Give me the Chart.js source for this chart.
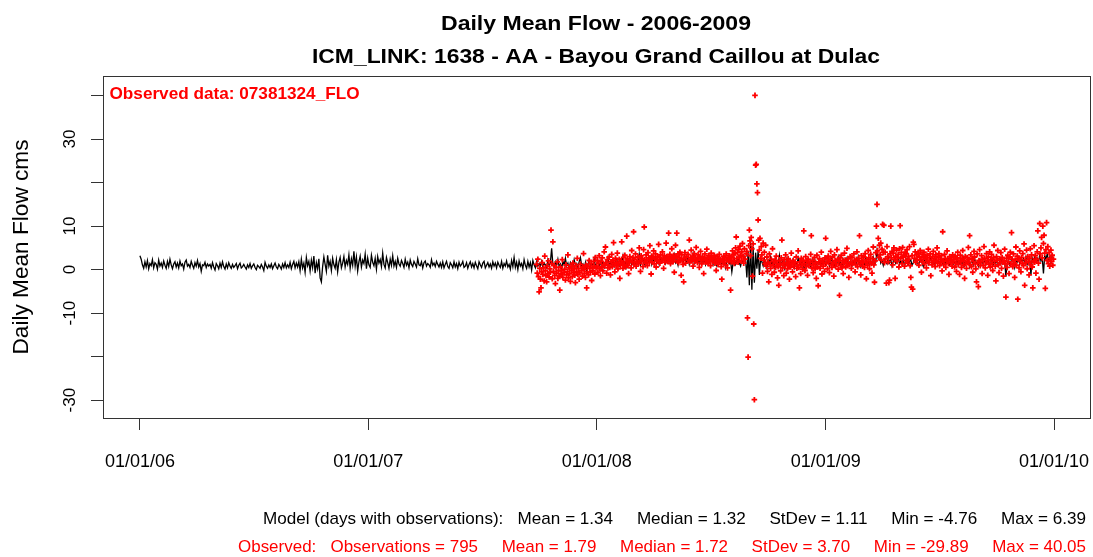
<!DOCTYPE html>
<html>
<head>
<meta charset="utf-8">
<title>Daily Mean Flow - 2006-2009</title>
<script src="https://cdn.jsdelivr.net/npm/chart.js@4.4.1/dist/chart.umd.min.js"></script>
<style>
  html, body { margin: 0; padding: 0; background: #fff; }
  #grafica { display: block; }
</style>
</head>
<body>
<canvas id="grafica" width="1093" height="557"></canvas>
<script>
// fechas base
const baseDate = '2006-01-01';
const modelStep = 2;              // model read every 2 days
const obsStart = '2007-09-27';    // first observed day

// model daily mean flow (cms), one value every modelStep days from baseDate
const model = [
  3.2,2.4,1.1,0.3,1.8,0.6,2.1,0.2,1.4,0.9,2.3,0.4,1.6,1.2,0.1,2.2,0.8,1.5,0.5,2.0,
  1.0,0.3,1.9,0.7,2.4,1.1,0.2,1.3,1.8,0.6,1.5,0.4,2.0,0.9,1.3,0.1,1.7,2.2,0.8,1.2,
  0.5,1.9,1.0,0.3,1.6,0.8,2.1,0.6,1.4,-0.4,1.1,0.9,1.7,0.5,1.3,0.8,
  1.2,0.3,1.6,0.6,-0.1,1.4,0.9,0.2,1.5,0.5,1.8,0.7,0.1,1.3,0.4,1.6,0.8,0.3,1.2,0.5,
  0.9,1.4,0.2,1.0,1.5,0.4,0.7,1.2,0.6,0.1,1.1,0.5,1.4,0.3,0.9,1.3,0.5,0.0,1.0,0.7,
  0.3,1.2,0.6,-0.2,1.7,0.8,0.3,1.1,0.5,1.3,0.2,0.9,1.5,0.6,0.2,1.2,0.7,0.1,1.3,0.5,
  1.6,0.4,1.1,0.5,1.7,0.2,1.2,1.9,0.4,1.5,
  0.6,1.8,-0.2,2.4,0.4,1.5,-0.6,2.8,0.9,1.9,-0.3,2.2,0.5,3.1,-0.8,1.6,0.2,2.5,-1.9,-2.8,
  0.7,2.9,1.2,-0.4,3.3,0.8,1.9,-0.2,2.6,1.1,0.3,2.3,-0.5,1.7,2.8,0.4,1.5,3.0,0.6,2.1,
  1.2,3.4,0.3,2.5,1.0,4.2,0.8,2.9,-0.3,1.8,3.1,0.6,2.2,1.4,3.6,0.2,2.7,1.1,0.5,3.3,
  1.7,0.9,2.6,0.1,3.0,1.5,2.3,0.7,3.8,1.2,0.4,2.8,1.6,0.3,2.4,1.0,3.2,0.8,1.9,0.5,
  2.6,1.3,
  0.8,2.1,1.4,0.5,2.4,1.0,1.7,0.4,2.2,1.2,0.7,1.9,1.3,0.6,2.5,1.1,0.9,1.8,0.4,1.6,
  2.0,0.8,1.4,1.1,0.5,2.3,1.0,1.5,0.7,1.9,1.2,0.6,
  1.5,0.5,1.8,0.4,1.2,1.9,0.7,0.3,1.6,1.1,0.4,1.8,0.6,1.4,0.2,1.7,0.8,1.2,1.9,0.5,
  0.8,1.6,0.3,1.2,1.8,0.6,1.4,0.4,1.7,0.9,0.2,1.8,1.1,0.5,1.5,1.9,0.4,1.0,1.6,0.6,
  1.3,0.3,1.8,0.8,1.5,0.4,1.7,1.0,0.5,1.9,0.3,1.4,0.8,2.0,0.6,1.2,0.1,2.1,0.7,2.8,
  0.5,1.7,0.0,2.0,0.8,1.4,0.2,2.3,1.0,0.3,1.9,0.6,1.6,-0.1,2.1,1.1,0.4,1.8,0.8,
  1.4,0.8,1.9,0.6,1.5,1.1,0.4,2.2,0.9,1.6,4.9,1.2,0.5,1.8,1.0,2.4,0.7,1.3,0.3,1.9,
  1.1,2.6,0.8,1.5,0.2,1.7,1.2,0.6,2.3,1.0,1.4,0.5,1.8,2.8,0.9,1.3,0.1,1.6,-0.5,1.2,
  2.1,0.8,1.5,1.0,2.5,0.7,1.3,1.9,0.6,1.4,2.2,1.0,0.4,1.7,1.2,2.7,0.9,1.5,1.1,2.0,
  0.7,1.6,2.4,1.2,0.8,1.8,1.3,3.1,1.0,1.7,0.6,2.2,1.4,1.9,1.1,2.6,0.9,1.5,2.1,1.3,
  3.5,1.0,1.8,2.3,1.4,0.8,2.0,
  2.1,1.6,2.8,1.2,2.4,1.9,3.2,1.5,2.0,1.1,2.6,1.8,2.3,3.0,1.4,2.2,1.7,2.9,1.3,2.5,
  2.0,3.4,1.6,2.2,1.0,2.7,1.9,2.4,1.5,3.1,2.1,1.7,2.8,1.2,2.3,1.9,3.6,1.4,2.1,1.8,
  2.6,1.3,2.2,2.9,1.6,2.4,1.1,2.0,2.7,1.5,1.9,2.3,1.2,2.5,1.8,0.9,2.1,1.6,2.4,1.3,
  1.9,2.2,0.4,1.7,2.3,1.4,2.0,-0.5,1.6,2.5,1.2,1.8,2.9,1.5,0.8,2.2,1.6,3.0,
  2.4,-1.8,4.1,-3.6,6.4,-4.6,5.2,-3.0,3.9,0.2,4.4,-1.2,2.6,
  1.8,0.9,2.5,1.3,0.4,2.2,1.6,2.9,1.0,1.9,0.6,2.4,1.4,1.1,3.2,0.8,1.7,2.1,0.3,1.5,
  2.6,1.2,0.7,1.9,1.4,2.3,0.5,1.8,1.1,2.7,1.6,0.9,2.0,1.3,-0.2,1.7,2.4,1.0,1.5,0.6,
  2.1,1.4,2.8,0.9,1.6,1.2,2.2,0.8,1.9,1.3,2.5,1.1,
  1.6,2.2,0.9,1.8,2.6,1.3,0.7,2.0,1.5,2.9,1.1,1.7,0.5,2.3,1.4,1.9,2.7,1.0,1.6,2.1,
  0.8,1.5,2.4,1.2,1.8,3.0,1.3,0.6,2.2,1.7,1.1,2.5,1.4,1.9,0.9,2.0,1.6,2.8,1.2,1.7,
  4.5,2.6,3.3,1.5,2.1,1.0,2.4,1.8,1.3,2.9,1.6,2.2,0.8,1.9,2.5,1.4,1.7,3.1,1.2,2.0,
  1.5,2.3,0.9,1.8,2.6,1.3,1.9,2.2,1.0,1.6,2.8,1.4,2.0,1.1,1.7,2.4,1.5,0.7,2.1,1.6,
  2.5,1.2,1.9,2.7,1.4,1.8,1.0,2.3,1.5,2.0,1.3,2.6,1.7,0.9,2.2,1.4,1.8,2.4,1.1,1.6,
  2.0,1.3,
  1.8,1.2,2.4,0.9,1.6,2.1,1.3,2.7,1.0,1.9,1.5,2.3,0.6,1.7,2.0,1.2,2.5,1.4,1.8,0.8,
  2.2,1.5,1.9,1.1,2.6,1.3,1.7,2.1,0.9,1.6,2.4,1.2,1.9,1.5,2.2,1.0,1.8,2.5,1.3,1.7,
  2.0,-1.6,1.4,2.3,1.1,1.9,2.6,1.5,0.4,2.1,1.7,2.8,1.3,2.2,1.8,2.5,1.6,2.9,1.2,2.0,
  2.4,-1.3,2.7,1.9,3.1,2.2,2.6,1.5,3.4,2.0,2.8,-0.9,3.2,2.4,3.6,2.1,2.9,1.7,3.3,2.5
];

// observed daily mean flow (cms), one value per day from obsStart, null = no observation
const observed = [
  1.2,-0.8,2.4,-1.6,-5.1,0.3,-2.2,-4.2,-0.5,1.6,-1.1,0.4,-2.6,3.1,-0.3,-1.4,-2.8,0.8,-0.9,2.0,
  -1.7,0.2,-0.6,9.1,1.4,-2.1,6.4,-0.4,0.9,-1.3,-3.2,0.5,-0.8,1.8,-2.0,-0.2,-1.5,-4.7,0.6,-1.0,
  -0.3,2.3,-1.8,null,-0.7,0.1,-2.4,1.1,-1.2,-0.5,3.4,-1.9,0.4,-0.9,-2.7,0.7,-0.1,-1.6,1.5,-0.6,
  0.2,-1.3,-3.0,0.9,-0.4,2.6,-1.1,0.3,-2.2,-0.7,1.2,null,-0.2,-1.5,0.6,3.7,-0.9,0.1,-1.8,1.0,
  -4.2,-0.5,0.8,-1.2,2.1,0.3,-0.6,1.4,-2.5,0.5,-0.3,1.9,0.7,-1.0,2.8,0.4,
  0.8,2.1,-0.6,1.5,3.2,0.2,-1.4,1.9,0.6,2.7,-0.3,1.2,4.1,0.9,5.2,1.6,-0.8,2.3,0.4,1.1,
  2.9,0.5,-1.2,1.8,3.5,0.7,2.2,6.2,1.3,-0.5,2.6,0.9,1.7,3.8,0.2,1.4,2.4,-2.0,1.0,2.0,
  6.4,1.5,0.3,2.8,1.1,3.3,0.6,1.9,7.7,2.5,0.9,-0.9,1.6,3.0,2.2,0.4,4.4,1.8,2.7,8.7,
  1.2,2.4,3.6,0.8,1.7,null,2.9,1.4,5.0,2.0,-0.4,3.2,1.9,2.6,0.7,4.6,9.8,2.3,1.5,3.4,
  2.1,0.9,3.9,2.7,1.6,5.5,2.4,-1.0,3.1,1.8,2.9,4.3,1.3,2.5,3.6,0.6,2.2,3.0,1.9,5.8,
  2.8,1.5,3.4,2.0,null,4.1,2.6,0.3,3.2,1.7,2.4,6.1,3.0,1.9,2.7,8.4,2.2,3.5,1.4,2.9,
  4.8,2.5,1.8,3.3,-0.6,2.7,5.6,3.1,8.4,2.0,3.6,1.6,2.8,4.0,2.3,-1.3,3.4,2.1,1.2,-2.8,
  2.6,3.9,1.5,2.9,null,null,3.5,2.2,6.8,1.8,2.7,4.5,2.0,3.1,0.8,2.4,3.7,1.9,2.8,5.1,
  2.3,1.6,3.4,2.7,0.5,2.9,4.2,2.1,1.3,3.0,2.5,-0.9,2.8,3.6,1.7,2.2,4.7,2.6,1.4,3.2,
  2.0,2.9,0.9,3.8,2.4,1.8,2.7,null,3.3,1.5,2.5,-0.2,2.1,3.0,1.2,2.6,3.5,1.9,2.3,0.7,
  -2.2,2.4,1.6,3.1,2.0,2.8,1.1,3.6,2.2,0.4,2.7,1.9,3.2,2.5,-4.7,1.8,2.9,4.3,3.5,2.1,
  1.4,3.7,5.0,7.5,2.6,3.9,1.7,4.6,2.8,5.4,3.3,2.0,4.1,6.0,3.0,1.5,4.8,2.4,null,3.6,
  4.2,-11.1,-20.1,5.5,9.1,6.6,3.2,7.4,4.8,-1.5,5.9,-12.5,-29.89,40.05,24.0,24.2,19.7,17.7,11.4,6.8,
  4.5,7.2,2.6,5.3,3.4,-0.8,6.1,2.2,4.0,1.3,
  5.6,0.8,2.9,-0.4,1.7,-2.8,3.6,1.2,0.3,2.4,-1.1,4.8,0.9,1.8,-0.6,2.2,0.5,3.1,1.4,-1.9,
  0.7,-3.6,2.0,1.1,-0.3,2.7,6.8,0.4,1.5,-1.4,2.3,0.9,3.4,-0.8,1.6,0.2,2.5,1.0,-2.2,1.9,
  0.6,3.8,1.3,-0.5,2.1,0.8,null,1.7,-1.6,2.9,0.3,1.2,4.3,0.5,-4.2,1.8,-0.9,2.6,1.0,0.1,
  2.2,8.9,1.4,-0.2,3.0,0.7,1.9,-1.3,2.4,0.9,null,1.6,3.5,7.8,0.4,2.0,-0.7,1.1,2.8,0.2,
  1.5,-2.0,3.3,0.6,-3.7,1.8,2.5,0.3,1.2,4.0,-1.0,2.1,0.8,1.6,-0.4,2.7,7.2,
  1.4,2.6,0.2,3.1,1.8,-0.7,2.3,4.2,1.1,0.5,2.9,1.6,-1.5,3.4,2.0,0.8,1.3,4.6,2.4,0.1,
  1.9,-5.9,2.7,1.0,3.3,0.4,2.1,-0.9,1.5,3.8,2.2,0.6,1.7,4.9,0.9,2.5,-1.8,1.2,3.0,1.6,
  0.3,2.8,1.4,null,3.6,2.0,-0.5,1.1,2.4,4.1,0.7,1.9,2.6,7.8,1.3,-1.2,3.2,2.1,0.8,1.7,
  2.9,0.5,3.7,1.6,-2.1,2.3,1.0,4.4,2.7,0.2,1.8,3.5,1.4,-0.8,2.5,5.2,1.1,-2.9,2.0,3.9,
  10.0,15.0,4.3,7.2,2.8,5.6,3.4,6.1,2.2,4.7,10.4,3.9,10.2,1.6,4.0,2.5,-3.1,5.3,3.0,1.8,
  -3.0,-2.4,3.6,10.0,2.7,4.2,1.1,3.8,5.0,2.3,-2.0,3.1,4.5,1.9,2.8,3.5,0.6,4.8,10.1,2.6,
  3.9,1.4,5.1,2.9,3.3,0.8,4.0,2.1,3.7,4.6,1.5,3.0,2.4,5.3,0.9,-1.8,-4.0,3.2,-4.5,6.3,
  5.8,2.6,4.1,1.7,3.4,2.2,null,3.8,1.0,2.9,4.4,2.3,-0.6,3.5,1.8,2.7,4.0,1.3,3.1,2.5,
  0.4,3.3,2.0,4.7,1.6,2.8,3.6,-1.4,2.2,1.1,3.0,4.2,1.9,2.6,0.7,3.4,2.1,5.0,1.5,2.9,
  3.7,0.9,2.4,1.7,3.2,-0.3,8.7,2.0,1.2,3.5,2.6,0.5,1.9,4.3,2.3,1.4,-1.1,3.0,2.2,1.6,
  2.8,0.8,3.4,1.9,
  2.4,0.6,3.1,1.5,-0.4,2.7,4.0,1.2,2.0,-1.1,3.3,1.8,0.5,2.6,4.4,1.0,2.2,-2.0,3.0,1.4,
  0.3,2.8,1.7,5.1,2.3,7.8,1.1,3.4,0.7,2.5,-0.6,1.9,4.2,2.9,1.3,0.2,-2.8,3.6,1.5,-3.9,
  2.1,4.6,0.9,1.8,3.2,-0.9,2.4,1.0,5.3,2.6,0.4,1.6,3.7,2.0,-1.3,2.9,1.2,4.1,0.6,2.3,
  3.5,1.4,-0.2,2.7,5.6,1.9,0.8,-2.6,3.0,2.2,4.4,1.1,-0.7,2.5,1.6,3.9,0.3,2.8,1.7,-1.5,
  2.0,4.7,1.3,-6.3,2.6,0.5,3.3,1.8,-0.9,2.9,4.0,1.2,8.5,2.4,0.7,3.6,1.5,-1.8,2.2,5.2,
  1.0,3.1,-6.8,2.5,0.4,4.3,1.9,-0.5,2.8,1.4,3.7,0.9,5.9,-3.6,2.3,1.6,4.5,0.2,3.0,1.8,
  -1.2,2.6,4.8,1.1,3.4,0.6,-4.2,2.0,5.5,1.7,3.2,-0.8,2.4,4.1,8.9,1.5,-2.2,10.6,3.6,5.0,
  7.4,2.7,10.0,6.0,7.9,3.8,-4.3,4.6,10.8,2.1,5.3,1.4,3.9,0.8,2.6,4.5,1.9,3.3,1.0,2.4
];

// axes
const xTickDates = ['2006-01-01', '2007-01-01', '2008-01-01', '2009-01-01', '2010-01-01'];
const xTickLabels = ['01/01/06', '01/01/07', '01/01/08', '01/01/09', '01/01/10'];
const yTicks = [-30, -20, -10, 0, 10, 20, 30, 40];
const yTickLabels = [30, 10, 0, -10, -30];

const titulo1 = 'Daily Mean Flow - 2006-2009';
const titulo2 = 'ICM_LINK: 1638 - AA - Bayou Grand Caillou at Dulac';
const tituloY = 'Daily Mean Flow cms';
const etiquetaObs = 'Observed data: 07381324_FLO';
const resumenModelo = 'Model (days with observations):   Mean = 1.34     Median = 1.32     StDev = 1.11     Min = -4.76     Max = 6.39';
const resumenObs = 'Observed:   Observations = 795     Mean = 1.79     Median = 1.72     StDev = 3.70     Min = -29.89     Max = 40.05';

function diaDesde(fecha) {
  return Math.round((Date.parse(fecha) - Date.parse(baseDate)) / 86400000);
}

const xTickDays = xTickDates.map(diaDesde);
const obsStartDay = diaDesde(obsStart);

const puntosModelo = model.map((v, i) => ({ x: i * modelStep, y: v }));
const puntosObs = [];
observed.forEach((v, i) => {
  if (v !== null) puntosObs.push({ x: obsStartDay + i, y: v });
});

// texto ajustado al ancho medido en la figura
function textoAjustado(ctx, texto, x, y, ancho, align) {
  const w = ctx.measureText(texto).width;
  ctx.save();
  ctx.translate(x, y);
  ctx.scale(ancho / w, 1);
  ctx.textAlign = align;
  ctx.fillText(texto, 0, 0);
  ctx.restore();
}

const marcoYTextos = {
  id: 'marcoYTextos',
  afterDraw(chart) {
    const ctx = chart.ctx;
    const area = chart.chartArea;
    const ys = chart.scales.y;

    ctx.save();
    ctx.strokeStyle = '#333';
    ctx.lineWidth = 1;
    ctx.strokeRect(Math.round(area.left) + 0.5, Math.round(area.top) + 0.5,
      Math.round(area.right - area.left) - 1, Math.round(area.bottom - area.top));

    ctx.fillStyle = '#000';
    ctx.textBaseline = 'alphabetic';
    ctx.font = 'bold 21px "Liberation Sans", Arial, sans-serif';
    textoAjustado(ctx, titulo1, 596, 29.5, 310, 'center');
    textoAjustado(ctx, titulo2, 596, 63, 568, 'center');

    // y tick labels, R style (parallel to the axis)
    ctx.font = '17px "Liberation Sans", Arial, sans-serif';
    ctx.textAlign = 'center';
    ctx.textBaseline = 'middle';
    yTickLabels.forEach(v => {
      ctx.save();
      ctx.translate(70, ys.getPixelForValue(v));
      ctx.rotate(-Math.PI / 2);
      ctx.fillText(String(v), 0, 0);
      ctx.restore();
    });

    ctx.font = '22px "Liberation Sans", Arial, sans-serif';
    ctx.save();
    ctx.translate(22, 247);
    ctx.rotate(-Math.PI / 2);
    textoAjustado(ctx, tituloY, 0, 0, 215, 'center');
    ctx.restore();

    ctx.textBaseline = 'alphabetic';
    ctx.fillStyle = '#ff0000';
    ctx.font = 'bold 17px "Liberation Sans", Arial, sans-serif';
    textoAjustado(ctx, etiquetaObs, 109.5, 98.5, 250, 'left');

    ctx.font = '17px "Liberation Sans", Arial, sans-serif';
    ctx.fillStyle = '#000';
    textoAjustado(ctx, resumenModelo, 1086, 524, 823, 'right');
    ctx.fillStyle = '#ff0000';
    textoAjustado(ctx, resumenObs, 1086, 552, 848, 'right');
    ctx.restore();
  }
};

Chart.defaults.font.family = '"Liberation Sans", Arial, sans-serif';

new Chart(document.getElementById('grafica').getContext('2d'), {
  type: 'scatter',
  data: {
    datasets: [
      {
        label: 'Observed',
        data: puntosObs,
        showLine: false,
        pointStyle: 'cross',
        pointRadius: 2.8,
        pointBorderWidth: 1.8,
        borderColor: '#ff0000',
        backgroundColor: '#ff0000',
        order: 0
      },
      {
        label: 'Model',
        data: puntosModelo,
        showLine: true,
        borderColor: '#000',
        borderWidth: 1.3,
        pointRadius: 0,
        tension: 0,
        order: 1
      }
    ]
  },
  options: {
    responsive: false,
    animation: false,
    events: [],
    devicePixelRatio: 1,
    layout: { autoPadding: false, padding: { top: 76, right: 2, left: 0, bottom: 0 } },
    plugins: {
      legend: { display: false },
      tooltip: { enabled: false },
      title: { display: false }
    },
    scales: {
      x: {
        type: 'linear',
        min: -59,
        max: 1520,
        afterBuildTicks: s => { s.ticks = xTickDays.map(v => ({ value: v })); },
        afterFit: s => { s.height = 139; s.paddingLeft = 0; s.paddingRight = 0; },
        grid: { drawOnChartArea: false, drawTicks: true, tickLength: 12, color: '#333' },
        border: { display: false },
        ticks: {
          padding: 21,
          maxRotation: 0,
          autoSkip: false,
          color: '#000',
          font: { size: 18 },
          callback: (v, i) => xTickLabels[i]
        }
      },
      y: {
        type: 'linear',
        min: -34.1,
        max: 44.5,
        afterBuildTicks: s => { s.ticks = yTicks.map(v => ({ value: v })); },
        afterFit: s => { s.width = 103; s.paddingTop = 0; s.paddingBottom = 0; },
        grid: { drawOnChartArea: false, drawTicks: true, tickLength: 12, color: '#333' },
        border: { display: false },
        ticks: { display: false }
      }
    }
  },
  plugins: [marcoYTextos]
});
</script>
</body>
</html>
